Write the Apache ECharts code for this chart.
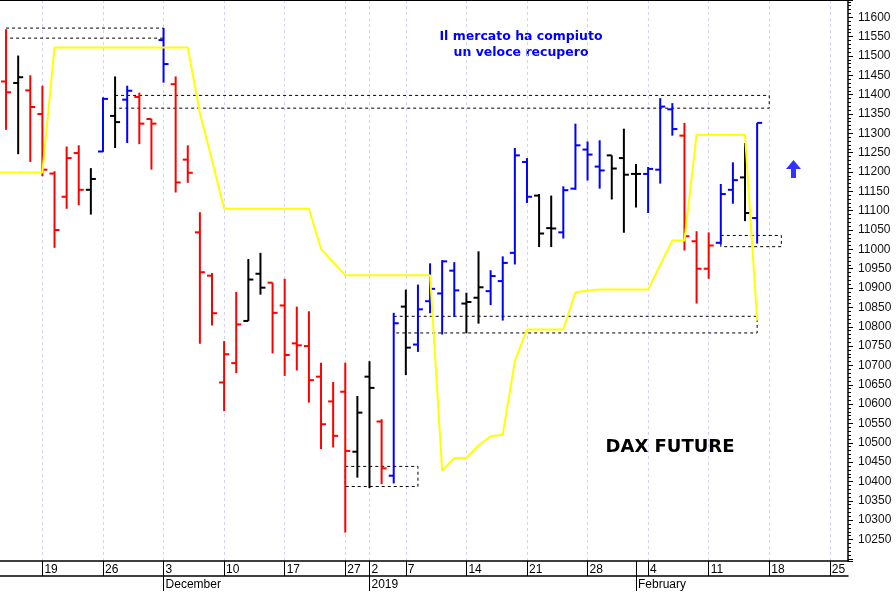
<!DOCTYPE html>
<html><head><meta charset="utf-8">
<script src="https://cdn.jsdelivr.net/npm/echarts@6.0.0/dist/echarts.min.js"></script>
<style>html,body{margin:0;padding:0;background:#fff}#c{width:896px;height:592px}</style>
</head><body><div id="c"></div>
<script>
// trading days (x categories)
const days = ['2018-11-14','2018-11-15','2018-11-16','2018-11-19','2018-11-20','2018-11-21','2018-11-22','2018-11-23',
'2018-11-26','2018-11-27','2018-11-28','2018-11-29','2018-11-30','2018-12-03','2018-12-04','2018-12-05','2018-12-06','2018-12-07',
'2018-12-10','2018-12-11','2018-12-12','2018-12-13','2018-12-14','2018-12-17','2018-12-18','2018-12-19','2018-12-20','2018-12-21',
'2018-12-27','2018-12-28','2019-01-02','2019-01-03','2019-01-04','2019-01-07','2019-01-08','2019-01-09','2019-01-10','2019-01-11',
'2019-01-14','2019-01-15','2019-01-16','2019-01-17','2019-01-18','2019-01-21','2019-01-22','2019-01-23','2019-01-24','2019-01-25',
'2019-01-28','2019-01-29','2019-01-30','2019-01-31','2019-02-01','2019-02-04','2019-02-05','2019-02-06','2019-02-07','2019-02-08',
'2019-02-11','2019-02-12','2019-02-13','2019-02-14','2019-02-15','2019-02-18','2019-02-19','2019-02-20','2019-02-21','2019-02-22',
'2019-02-25','2019-02-26'];

const open  = [11434,11430,11411,11350,11196,11136,11249,11154,11253,11345,11387,11394,11337,11541,11427,11232,11044,10932,10656,10706,
10815,10937,10914,10855,10757,10750,10671,10607,10632,10477,10671,10555,10415,10852,10754,10866,10886,10945,10860,10875,
10892,10918,10991,11226,11139,11055,11044,11157,11258,11214,11243,11236,11195,11195,11206,11362,11294,11021,10950,11017,
11154,11186,11081];
const high  = [11569,11501,11450,11423,11202,11266,11269,11210,11393,11447,11423,11405,11337,11572,11447,11269,11096,10939,10763,10890,
10975,10991,10914,10924,10852,10840,10707,10657,10707,10621,10711,10561,10836,10896,10909,10964,10972,10967,10888,10995,
10946,10982,11262,11236,11143,11139,11163,11325,11279,11282,11243,11312,11221,11213,11391,11378,11327,11047,11044,11169,
11225,11275,11327];
const low   = [11309,11246,11226,11189,11004,11105,11114,11090,11252,11262,11275,11272,11206,11431,11147,11172,10756,10803,10582,10680,
10815,10883,10731,10673,10687,10604,10484,10488,10268,10410,10383,10393,10395,10675,10735,10835,10780,10825,10783,10808,
10856,10816,10961,11120,11006,11006,11028,11154,11178,11157,11129,11043,11108,11094,11170,11294,10997,10860,10924,11013,
11118,11073,11015];
const close = [11406,11445,11368,11206,11050,11236,11154,11182,11389,11329,11410,11325,11325,11479,11173,11198,10941,10835,10729,10806,
10922,10901,10836,10727,10752,10662,10548,10518,10479,10578,10642,10434,10809,10746,10845,10898,10969,10894,10864,10902,
10931,10965,11243,11136,11041,11054,11153,11269,11245,11204,11209,11193,11195,11208,11369,11311,11034,10950,11010,11143,
11179,11094,11327];
const barColor = ['r','k','r','r','r','r','r','k','b','k','b','r','r','b','r','r','r','r','r','r',
'k','k','r','r','r','r','r','r','r','k','k','r','b','k','b','b','b','b','k','k',
'b','b','b','b','k','k','b','b','b','b','k','k','k','b','b','b','r','r','r','b',
'b','k','b'];

// yellow line (day index, value)
const yellowIdx = [-1,3,4,15,16,17,18,25,26,27,28,35,36,37,38,39,40,41,42,43,46,47,48,49,53,54,55,56,57,61,62];
const yellowVal = [11199,11199,11522,11522,11352,11231,11105,11105,11001,10967,10933,10933,10428,10461,10461,10493,10517,10521,10711,10793,
10793,10889,10893,10896,10896,10960,11023,11023,11296,11296,10816];

// dashed boxes
const boxFrom = [0, 9, 28, 32, 59];
const boxTo   = [13, 63, 34, 62, 64];
const boxLow  = [11546, 11365, 10387, 10784, 11007];
const boxHigh = [11572, 11398, 10439, 10827, 11036];

// arrow
const arrowIdx = [65];
const arrowVal = [11208];

const monthNames = ['December', '2019', 'February'];
const yTickStep = 50;

const palette = { r: '#ff0000', k: '#000000', b: '#0000ff' };

// week starts and month starts from the trading days
const weekIdx = [], weekLab = [], monthIdx = [];
for (let i = 1; i < days.length; i++) {
  const d = new Date(days[i] + 'T00:00:00Z'), p = new Date(days[i-1] + 'T00:00:00Z');
  if (d.getUTCDay() <= p.getUTCDay() || (d - p) >= 7 * 864e5) { weekIdx.push(i); weekLab.push(String(d.getUTCDate())); }
  if (d.getUTCMonth() !== p.getUTCMonth()) monthIdx.push(i);
}

const ohlc = open.map((o, i) => [i, o, high[i], low[i], close[i]]);
const yellow = yellowIdx.map((x, i) => [x, yellowVal[i]]);
const boxes = boxFrom.map((x0, i) => [{ coord: [x0, boxHigh[i]] }, { coord: [boxTo[i], boxLow[i]] }]);

const xMin = -0.5, xMax = days.length - 0.5;
const baseX = { type: 'value', min: xMin, max: xMax, gridIndex: 0 };
const font = '"Liberation Sans", Arial, sans-serif';

const chart = echarts.init(document.getElementById('c'), null, { renderer: 'canvas' });
chart.setOption({
  animation: false,
  backgroundColor: '#fff',
  grid: { left: 0, right: 48, top: 0, bottom: 30, containLabel: false },
  xAxis: [
    Object.assign({}, baseX, {
      position: 'bottom',
      axisLine: { show: true, onZero: false, lineStyle: { color: '#000', width: 1.5 } },
      axisTick: { show: true, customValues: weekIdx, length: 15, lineStyle: { color: '#000', width: 1 } },
      axisLabel: { show: true, customValues: weekIdx, align: 'left', margin: 2, padding: [0, 0, 0, 2],
        fontFamily: font, fontSize: 12, color: '#000', lineHeight: 14,
        formatter: v => { const k = weekIdx.indexOf(Math.round(v)); return k >= 0 ? weekLab[k] : ''; } },
      splitLine: { show: true, lineStyle: { color: '#d2d2f6', width: 1, type: [3, 3] } }
    }),
    Object.assign({}, baseX, {
      position: 'bottom', offset: 0,
      axisLine: { show: false, onZero: false },
      axisTick: { show: true, customValues: monthIdx, length: 30, lineStyle: { color: '#000', width: 1 } },
      axisLabel: { show: true, customValues: monthIdx, align: 'left', margin: 17, padding: [0, 0, 0, 2],
        fontFamily: font, fontSize: 12, color: '#000', lineHeight: 14,
        formatter: v => { const k = monthIdx.indexOf(Math.round(v)); return k >= 0 ? monthNames[k] : ''; } },
      splitLine: { show: false }
    }),
    Object.assign({}, baseX, {
      position: 'bottom', offset: 15,
      axisLine: { show: true, onZero: false, lineStyle: { color: '#000', width: 1.5 } },
      axisTick: { show: false }, axisLabel: { show: false }, splitLine: { show: false }
    }),
    Object.assign({}, baseX, {
      position: 'top',
      axisLine: { show: true, onZero: false, lineStyle: { color: '#000', width: 2 } },
      axisTick: { show: false }, axisLabel: { show: false }, splitLine: { show: false }
    })
  ],
  yAxis: {
    type: 'value', position: 'right', min: 10194.5, max: 11644.6,
    minInterval: yTickStep, maxInterval: yTickStep,
    axisLine: { show: true, onZero: false, lineStyle: { color: '#000', width: 1.5 } },
    axisTick: { show: true, length: 5, lineStyle: { color: '#000' } },
    minorTick: { show: true, splitNumber: 5, length: 3, lineStyle: { color: '#000' } },
    axisLabel: { show: true, margin: 10, fontFamily: font, fontSize: 12, color: '#111',
      showMinLabel: false, showMaxLabel: false,
      formatter: v => (Math.abs(v % yTickStep) < 1e-6 && v >= 10250 && v <= 11600) ? String(v) : '' },
    splitLine: { show: false }
  },
  series: [
    {
      type: 'custom', name: 'DAX', xAxisIndex: 0, yAxisIndex: 0,
      data: ohlc, encode: { x: 0, y: [1, 2, 3, 4] }, z: 2, clip: true,
      renderItem: function (params, api) {
        const x = api.value(0);
        const pO = api.coord([x, api.value(1)]);
        const pH = api.coord([x, api.value(2)]);
        const pL = api.coord([x, api.value(3)]);
        const pC = api.coord([x, api.value(4)]);
        const col = palette[barColor[params.dataIndex]];
        const st = { stroke: col, lineWidth: 2 };
        return { type: 'group', children: [
          { type: 'line', shape: { x1: pH[0], y1: pH[1], x2: pL[0], y2: pL[1] }, style: st },
          { type: 'line', shape: { x1: pO[0] - 5, y1: pO[1], x2: pO[0], y2: pO[1] }, style: st },
          { type: 'line', shape: { x1: pC[0], y1: pC[1], x2: pC[0] + 5, y2: pC[1] }, style: st }
        ] };
      }
    },
    {
      type: 'line', name: 'trail', xAxisIndex: 0, yAxisIndex: 0, data: yellow,
      showSymbol: false, symbol: 'none', clip: true, z: 3,
      lineStyle: { color: '#ffff00', width: 2 },
      markArea: {
        silent: true,
        itemStyle: { color: 'rgba(0,0,0,0)', borderColor: '#000', borderWidth: 1, borderType: [3, 3] },
        data: boxes
      }
    },
    {
      type: 'scatter', name: 'arrow', xAxisIndex: 0, yAxisIndex: 0,
      data: arrowIdx.map((x, i) => [x, arrowVal[i]]),
      symbol: 'path://M7.5,0 L15,9 L10,9 L10,18 L5,18 L5,9 L0,9 Z', symbolSize: [15, 18],
      itemStyle: { color: '#0000ff' }, z: 4, silent: true
    }
  ],
  graphic: [
    { type: 'text', x: 521, y: 45, silent: true,
      style: { text: 'Il mercato ha compiuto\nun veloce recupero', align: 'center', verticalAlign: 'middle',
        font: 'bold 12.5px "DejaVu Sans", Verdana, sans-serif', fill: '#0000ff', lineHeight: 16 } },
    { type: 'text', x: 670, y: 447, silent: true,
      style: { text: 'DAX FUTURE', align: 'center', verticalAlign: 'middle',
        font: 'bold 18px "DejaVu Sans", Verdana, sans-serif', fill: '#000' } }
  ]
});
</script></body></html>
